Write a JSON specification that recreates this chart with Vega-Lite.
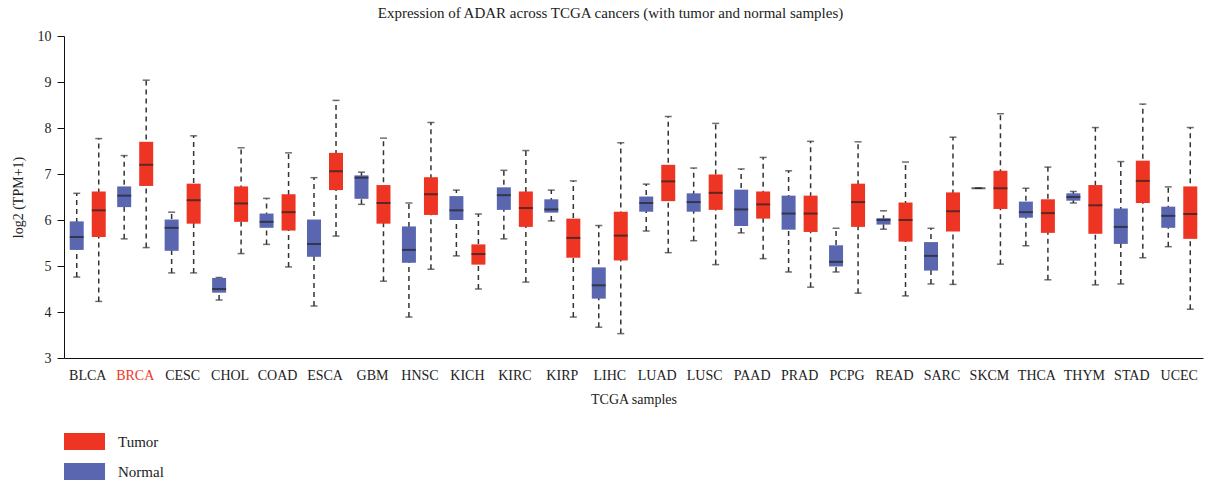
{
  "$schema": "https://vega.github.io/schema/vega-lite/v6.json",
  "width": 1139,
  "height": 322,
  "autosize": "none",
  "padding": {"left": 64, "top": 36, "right": 11, "bottom": 125},
  "background": "white",
  "config": {
    "view": {"stroke": null},
    "font": "Liberation Serif",
    "axis": {"labelFont": "Liberation Serif", "titleFont": "Liberation Serif", "labelColor": "#222", "titleColor": "#222", "titleFontWeight": "normal", "labelFontSize": 14, "titleFontSize": 14, "domainColor": "#111", "tickColor": "#111", "grid": false},
    "legend": {"labelFont": "Liberation Serif", "labelFontSize": 15, "labelColor": "#222"}
  },
  "title": {"text": "Expression of ADAR across TCGA cancers (with tumor and normal samples)", "fontSize": 15, "font": "Liberation Serif", "fontWeight": "normal", "color": "#222", "anchor": "middle", "dx": -23, "offset": 8},
  "data": {"values": [
    {"cancer": "BLCA", "group": "Normal", "min": 4.76, "q1": 5.35, "median": 5.63, "q3": 5.97, "max": 6.58},
    {"cancer": "BLCA", "group": "Tumor", "min": 4.23, "q1": 5.63, "median": 6.21, "q3": 6.62, "max": 7.77},
    {"cancer": "BRCA", "group": "Normal", "min": 5.59, "q1": 6.28, "median": 6.53, "q3": 6.73, "max": 7.40},
    {"cancer": "BRCA", "group": "Tumor", "min": 5.40, "q1": 6.74, "median": 7.20, "q3": 7.70, "max": 9.04},
    {"cancer": "CESC", "group": "Normal", "min": 4.85, "q1": 5.33, "median": 5.83, "q3": 6.01, "max": 6.17},
    {"cancer": "CESC", "group": "Tumor", "min": 4.85, "q1": 5.92, "median": 6.43, "q3": 6.79, "max": 7.83},
    {"cancer": "CHOL", "group": "Normal", "min": 4.26, "q1": 4.42, "median": 4.50, "q3": 4.74, "max": 4.75},
    {"cancer": "CHOL", "group": "Tumor", "min": 5.27, "q1": 5.96, "median": 6.36, "q3": 6.73, "max": 7.57},
    {"cancer": "COAD", "group": "Normal", "min": 5.47, "q1": 5.83, "median": 5.96, "q3": 6.14, "max": 6.47},
    {"cancer": "COAD", "group": "Tumor", "min": 4.98, "q1": 5.77, "median": 6.17, "q3": 6.56, "max": 7.46},
    {"cancer": "ESCA", "group": "Normal", "min": 4.13, "q1": 5.20, "median": 5.48, "q3": 6.01, "max": 6.92},
    {"cancer": "ESCA", "group": "Tumor", "min": 5.65, "q1": 6.65, "median": 7.06, "q3": 7.46, "max": 8.60},
    {"cancer": "GBM", "group": "Normal", "min": 6.34, "q1": 6.46, "median": 6.92, "q3": 6.97, "max": 7.04},
    {"cancer": "GBM", "group": "Tumor", "min": 4.67, "q1": 5.92, "median": 6.37, "q3": 6.76, "max": 7.78},
    {"cancer": "HNSC", "group": "Normal", "min": 3.89, "q1": 5.07, "median": 5.35, "q3": 5.86, "max": 6.37},
    {"cancer": "HNSC", "group": "Tumor", "min": 4.93, "q1": 6.11, "median": 6.56, "q3": 6.93, "max": 8.12},
    {"cancer": "KICH", "group": "Normal", "min": 5.22, "q1": 6.00, "median": 6.21, "q3": 6.52, "max": 6.65},
    {"cancer": "KICH", "group": "Tumor", "min": 4.50, "q1": 5.03, "median": 5.26, "q3": 5.47, "max": 6.13},
    {"cancer": "KIRC", "group": "Normal", "min": 5.59, "q1": 6.22, "median": 6.54, "q3": 6.71, "max": 7.08},
    {"cancer": "KIRC", "group": "Tumor", "min": 4.65, "q1": 5.85, "median": 6.26, "q3": 6.62, "max": 7.51},
    {"cancer": "KIRP", "group": "Normal", "min": 5.98, "q1": 6.16, "median": 6.23, "q3": 6.45, "max": 6.65},
    {"cancer": "KIRP", "group": "Tumor", "min": 3.89, "q1": 5.18, "median": 5.61, "q3": 6.03, "max": 6.85},
    {"cancer": "LIHC", "group": "Normal", "min": 3.67, "q1": 4.29, "median": 4.58, "q3": 4.97, "max": 5.88},
    {"cancer": "LIHC", "group": "Tumor", "min": 3.53, "q1": 5.12, "median": 5.66, "q3": 6.18, "max": 7.68},
    {"cancer": "LUAD", "group": "Normal", "min": 5.76, "q1": 6.18, "median": 6.37, "q3": 6.51, "max": 6.78},
    {"cancer": "LUAD", "group": "Tumor", "min": 5.29, "q1": 6.41, "median": 6.84, "q3": 7.20, "max": 8.25},
    {"cancer": "LUSC", "group": "Normal", "min": 5.55, "q1": 6.18, "median": 6.39, "q3": 6.58, "max": 7.13},
    {"cancer": "LUSC", "group": "Tumor", "min": 5.03, "q1": 6.22, "median": 6.59, "q3": 6.99, "max": 8.10},
    {"cancer": "PAAD", "group": "Normal", "min": 5.72, "q1": 5.87, "median": 6.23, "q3": 6.66, "max": 7.11},
    {"cancer": "PAAD", "group": "Tumor", "min": 5.16, "q1": 6.03, "median": 6.34, "q3": 6.62, "max": 7.36},
    {"cancer": "PRAD", "group": "Normal", "min": 4.87, "q1": 5.79, "median": 6.14, "q3": 6.53, "max": 7.07},
    {"cancer": "PRAD", "group": "Tumor", "min": 4.54, "q1": 5.74, "median": 6.14, "q3": 6.53, "max": 7.71},
    {"cancer": "PCPG", "group": "Normal", "min": 4.87, "q1": 4.99, "median": 5.09, "q3": 5.45, "max": 5.82},
    {"cancer": "PCPG", "group": "Tumor", "min": 4.41, "q1": 5.85, "median": 6.39, "q3": 6.79, "max": 7.70},
    {"cancer": "READ", "group": "Normal", "min": 5.80, "q1": 5.90, "median": 6.00, "q3": 6.04, "max": 6.20},
    {"cancer": "READ", "group": "Tumor", "min": 4.35, "q1": 5.53, "median": 6.00, "q3": 6.38, "max": 7.26},
    {"cancer": "SARC", "group": "Normal", "min": 4.61, "q1": 4.90, "median": 5.22, "q3": 5.52, "max": 5.82},
    {"cancer": "SARC", "group": "Tumor", "min": 4.60, "q1": 5.75, "median": 6.19, "q3": 6.60, "max": 7.80},
    {"cancer": "SKCM", "group": "Normal", "min": 6.69, "q1": 6.69, "median": 6.69, "q3": 6.69, "max": 6.69},
    {"cancer": "SKCM", "group": "Tumor", "min": 5.04, "q1": 6.24, "median": 6.69, "q3": 7.07, "max": 8.31},
    {"cancer": "THCA", "group": "Normal", "min": 5.44, "q1": 6.05, "median": 6.17, "q3": 6.40, "max": 6.69},
    {"cancer": "THCA", "group": "Tumor", "min": 4.70, "q1": 5.72, "median": 6.15, "q3": 6.45, "max": 7.15},
    {"cancer": "THYM", "group": "Normal", "min": 6.37, "q1": 6.42, "median": 6.50, "q3": 6.58, "max": 6.62},
    {"cancer": "THYM", "group": "Tumor", "min": 4.59, "q1": 5.70, "median": 6.32, "q3": 6.76, "max": 8.01},
    {"cancer": "STAD", "group": "Normal", "min": 4.61, "q1": 5.48, "median": 5.85, "q3": 6.25, "max": 7.27},
    {"cancer": "STAD", "group": "Tumor", "min": 5.18, "q1": 6.37, "median": 6.85, "q3": 7.29, "max": 8.52},
    {"cancer": "UCEC", "group": "Normal", "min": 5.42, "q1": 5.83, "median": 6.09, "q3": 6.29, "max": 6.72},
    {"cancer": "UCEC", "group": "Tumor", "min": 4.06, "q1": 5.59, "median": 6.13, "q3": 6.73, "max": 8.01}
  ]},
  "encoding": {
    "x": {"field": "cancer", "type": "nominal", "sort": null,
      "scale": {"paddingInner": 0, "paddingOuter": 0},
      "axis": {"title": "TCGA samples", "labelAngle": 0, "ticks": false, "labelPadding": 10, "titlePadding": 10,
        "labelColor": {"expr": "datum.value === 'BRCA' ? '#EE3524' : '#222'"}}},
    "xOffset": {"field": "group", "type": "nominal", "sort": ["Normal", "Tumor"],
      "scale": {"domain": ["Normal", "Tumor"], "paddingInner": 0.364, "paddingOuter": 0.26}}
  },
  "layer": [
    {"mark": {"type": "rule", "strokeDash": [5, 4], "strokeWidth": 1.5, "color": "#333"},
     "encoding": {
       "y": {"field": "min", "type": "quantitative", "scale": {"domain": [3, 10], "nice": false, "zero": false},
         "axis": {"title": "log2 (TPM+1)", "values": [3, 4, 5, 6, 7, 8, 9, 10], "tickSize": 7, "labelPadding": 6, "titlePadding": 12}},
       "y2": {"field": "max"}}},
    {"mark": {"type": "tick", "size": 7, "thickness": 1.5, "color": "#333"},
     "encoding": {"y": {"field": "min", "type": "quantitative"}}},
    {"mark": {"type": "tick", "size": 7, "thickness": 1.5, "color": "#333"},
     "encoding": {"y": {"field": "max", "type": "quantitative"}}},
    {"mark": {"type": "bar", "opacity": 1},
     "encoding": {
       "y": {"field": "q1", "type": "quantitative"},
       "y2": {"field": "q3"},
       "color": {"field": "group", "type": "nominal",
         "scale": {"domain": ["Tumor", "Normal"], "range": ["#EE3524", "#5A67B0"]},
         "legend": {"title": null, "orient": "none", "legendX": 0, "legendY": 385, "padding": 0,
           "symbolType": "M-1,-0.415H1V0.415H-1Z", "symbolSize": 1681, "symbolStrokeWidth": 0, "symbolOpacity": 1,
           "labelOffset": 13, "rowPadding": -11.5}}}},
    {"mark": {"type": "tick", "size": 14, "thickness": 2, "color": "#222"},
     "encoding": {"y": {"field": "median", "type": "quantitative"}}}
  ]
}
